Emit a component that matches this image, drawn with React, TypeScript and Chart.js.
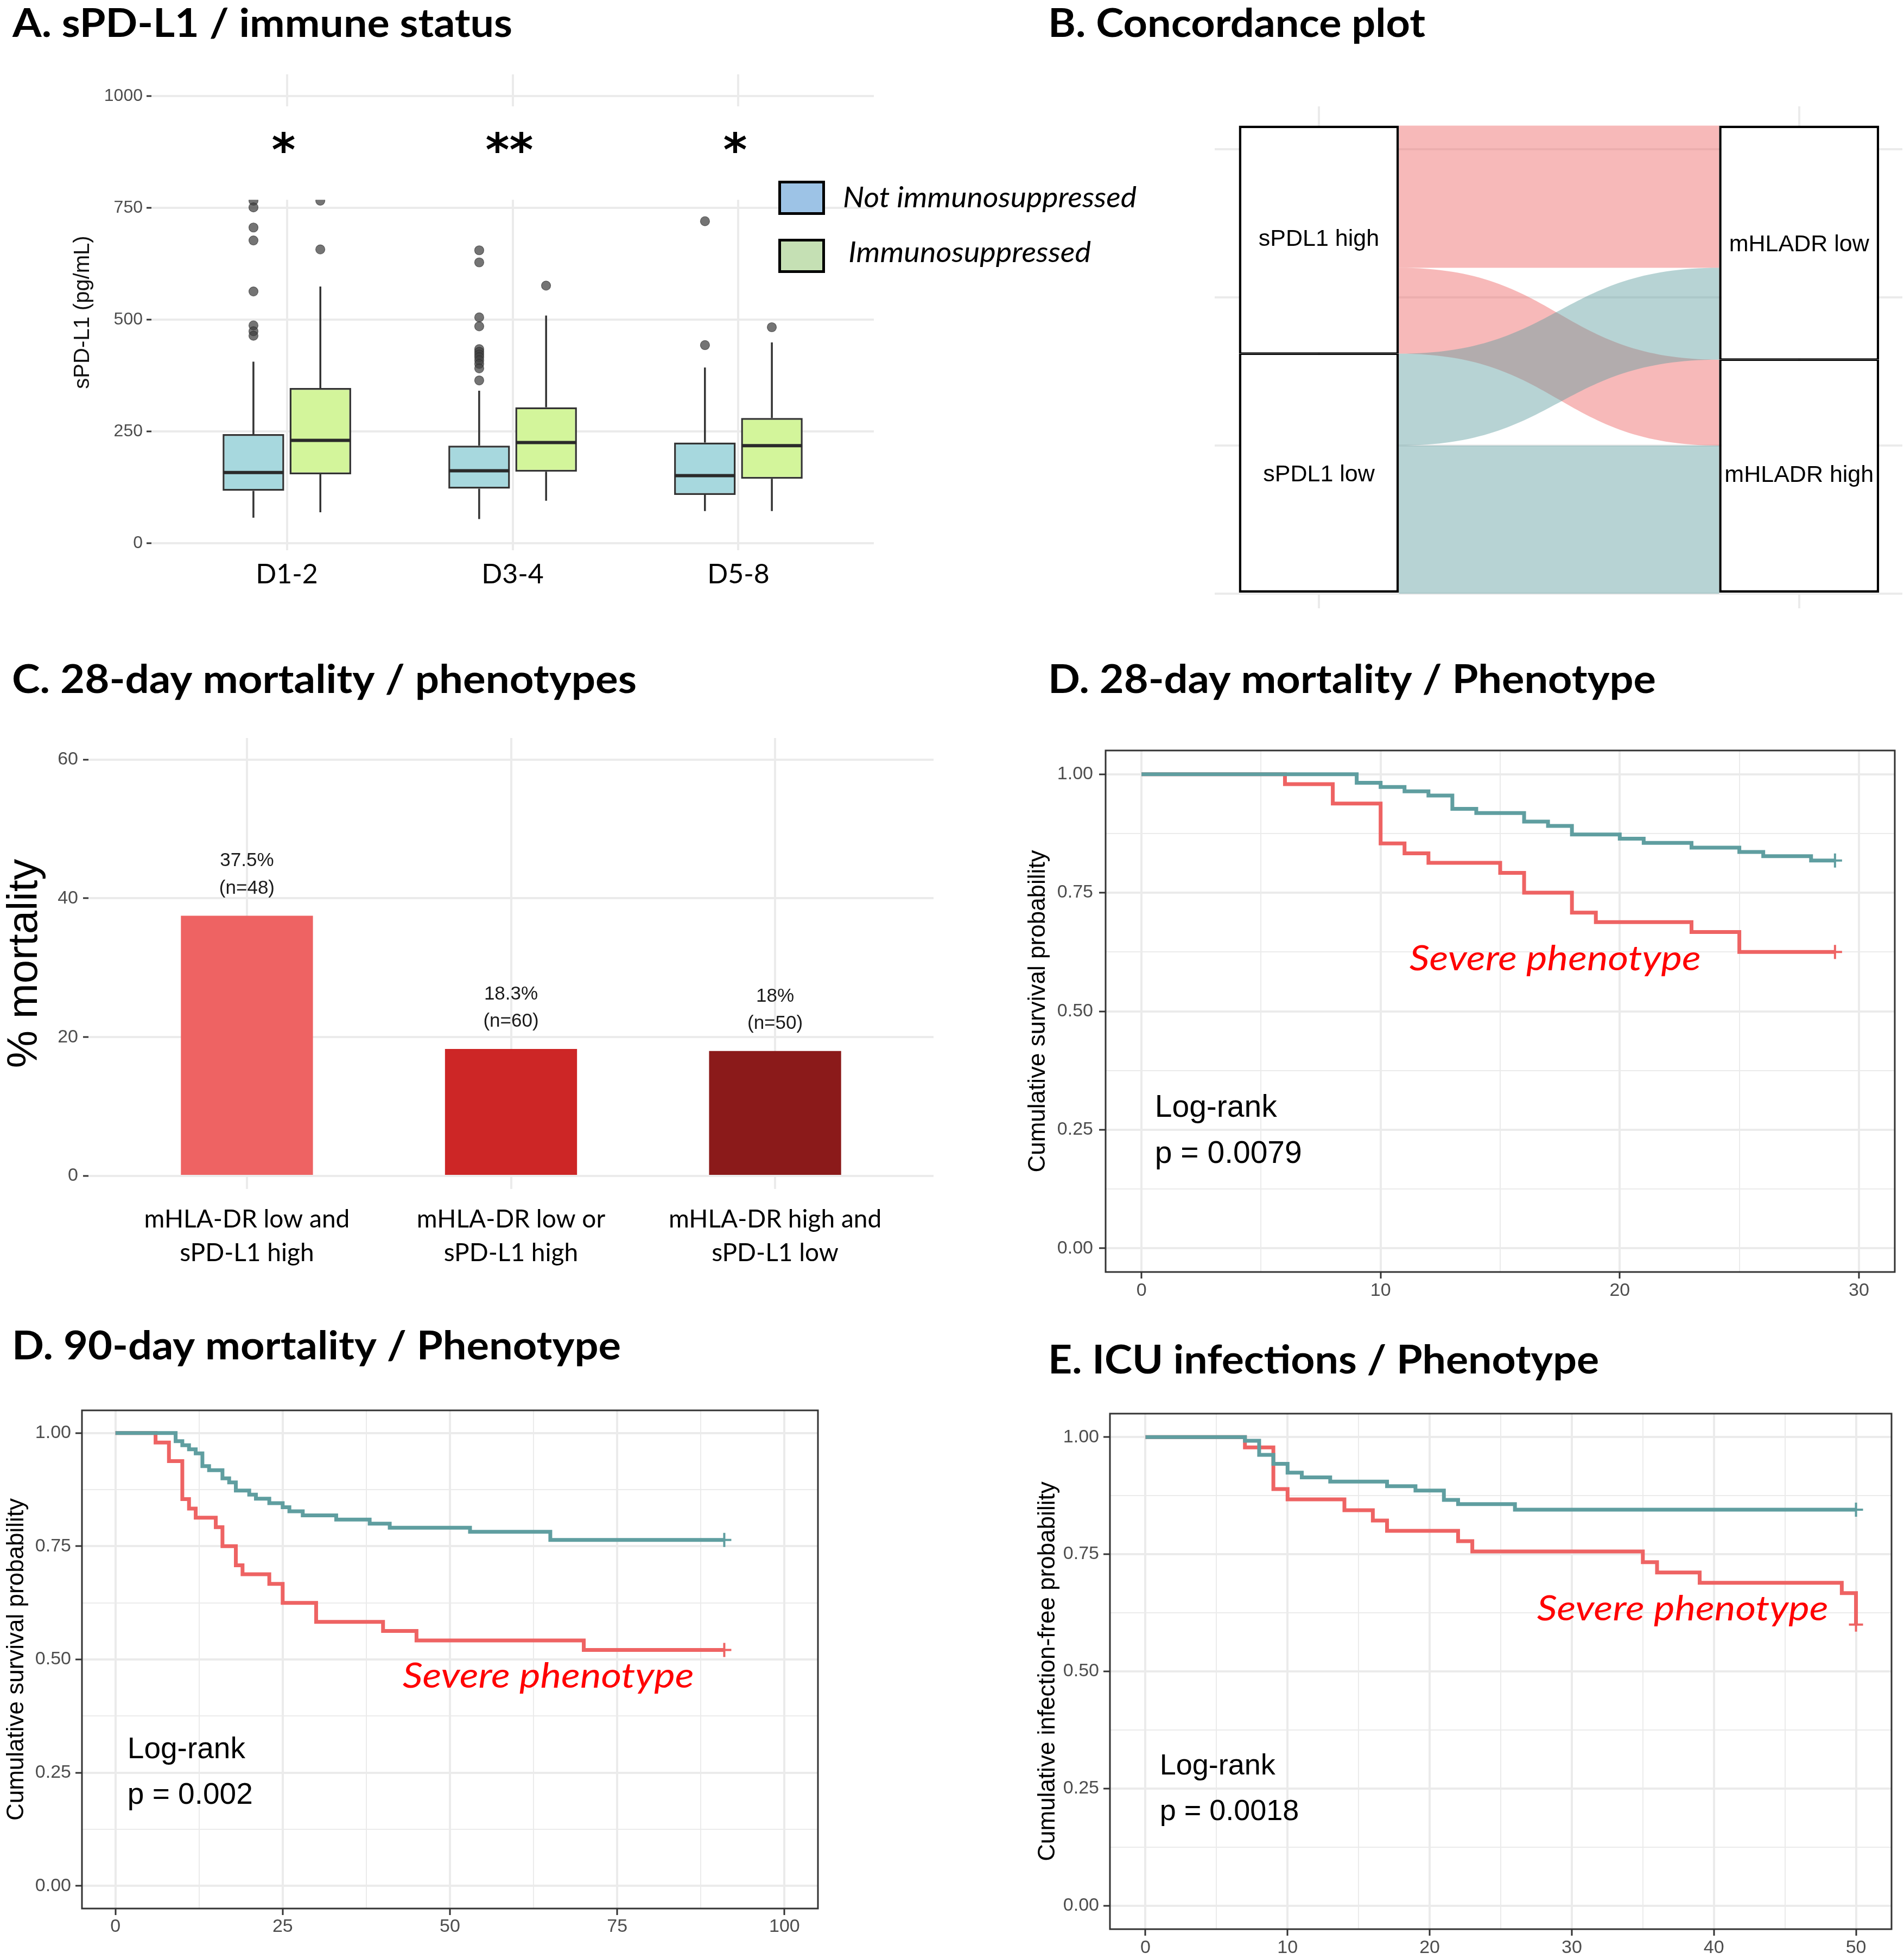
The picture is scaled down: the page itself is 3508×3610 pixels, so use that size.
import React, { useEffect, useRef } from 'react';
import { Chart, registerables } from 'chart.js';

Chart.register(...registerables);

// ---------------- Panel A : sPD-L1 / immune status ----------------
const dayGroups = ['D1-2', 'D3-4', 'D5-8'];
const statusGroups = ['Not immunosuppressed', 'Immunosuppressed'];
const notImmWhiskerLow = [57, 54, 72];
const notImmQ1 = [117, 122, 108];
const notImmMedian = [158, 162, 151];
const notImmQ3 = [244, 218, 225];
const notImmWhiskerHigh = [406, 341, 393];
const notImmOutliers = [
  [766, 751, 706, 677, 563, 487, 474, 464],
  [655, 628, 505, 485, 434, 428, 422, 416, 409, 401, 391, 364],
  [720, 443],
];
const immWhiskerLow = [69, 95, 72];
const immQ1 = [154, 160, 144];
const immMedian = [230, 225, 218];
const immQ3 = [347, 304, 280];
const immWhiskerHigh = [574, 509, 449];
const immOutliers = [[766, 657], [576], [483]];
const significance = ['*', '**', '*'];
const spdl1Ticks = [0, 250, 500, 750, 1000];

// ---------------- Panel B : concordance (alluvial) ----------------
const leftStrata = ['sPDL1 high', 'sPDL1 low'];
const rightStrata = ['mHLADR low', 'mHLADR high'];
const flowFrom = [0, 0, 1, 1];
const flowTo = [0, 1, 0, 1];
const flowCount = [48, 29, 31, 50];
const concordanceTicks = [0, 50, 100, 150];
const axisPositions = [1, 2];

// ---------------- Panel C : 28-day mortality ----------------
const phenotypeLabels = [
  ['mHLA-DR low and', 'sPD-L1 high'],
  ['mHLA-DR low or', 'sPD-L1 high'],
  ['mHLA-DR high and', 'sPD-L1 low'],
];
const mortalityPct = [37.5, 18.3, 18];
const mortalityText = ['37.5%', '18.3%', '18%'];
const groupSize = [48, 60, 50];
const mortalityTicks = [0, 20, 40, 60];

// ---------------- Kaplan-Meier panels ----------------
const survTicks = [0, 0.25, 0.5, 0.75, 1];
const survMinorTicks = [0.125, 0.375, 0.625, 0.875];

const d28Ticks = [0, 10, 20, 30];
const d28MinorTicks = [5, 15, 25];
const d28TealTime = [0, 9, 10, 11, 12, 13, 14, 16, 17, 18, 20, 21, 23, 25, 26, 28, 29];
const d28TealSurv = [1, 0.982, 0.973, 0.964, 0.955, 0.927, 0.918, 0.9, 0.891, 0.873, 0.864, 0.855, 0.845, 0.836, 0.827, 0.818, 0.818];
const d28RedTime = [0, 6, 8, 10, 11, 12, 15, 16, 18, 19, 23, 25, 29];
const d28RedSurv = [1, 0.979, 0.938, 0.854, 0.833, 0.813, 0.792, 0.75, 0.708, 0.688, 0.667, 0.625, 0.625];

const d90Ticks = [0, 25, 50, 75, 100];
const d90MinorTicks = [12.5, 37.5, 62.5, 87.5];
const d90TealTime = [0, 9, 10, 11, 12, 13, 14, 16, 17, 18, 20, 21, 23, 25, 26, 28, 33, 38, 41, 53, 65, 91];
const d90TealSurv = [1, 0.982, 0.973, 0.964, 0.955, 0.927, 0.918, 0.9, 0.891, 0.873, 0.864, 0.855, 0.845, 0.836, 0.827, 0.818, 0.809, 0.8, 0.791, 0.782, 0.764, 0.764];
const d90RedTime = [0, 6, 8, 10, 11, 12, 15, 16, 18, 19, 23, 25, 30, 40, 45, 70, 91];
const d90RedSurv = [1, 0.979, 0.938, 0.854, 0.833, 0.813, 0.792, 0.75, 0.708, 0.688, 0.667, 0.625, 0.583, 0.563, 0.542, 0.521, 0.521];

const icuTicks = [0, 10, 20, 30, 40, 50];
const icuMinorTicks = [5, 15, 25, 35, 45];
const icuTealTime = [0, 7, 8, 9, 10, 11, 13, 17, 19, 21, 22, 26, 50];
const icuTealSurv = [1, 0.992, 0.962, 0.943, 0.924, 0.914, 0.905, 0.895, 0.886, 0.866, 0.857, 0.845, 0.845];
const icuRedTime = [0, 7, 9, 10, 14, 16, 17, 22, 23, 35, 36, 39, 49, 50];
const icuRedSurv = [1, 0.978, 0.889, 0.867, 0.844, 0.822, 0.8, 0.778, 0.756, 0.733, 0.711, 0.689, 0.667, 0.6];

const kmGroups = ['Other phenotypes', 'Severe phenotype'];
const severeLabel = 'Severe phenotype';
const logRankLabel = 'Log-rank';
const d28P = 'p = 0.0079';
const d90P = 'p = 0.002';
const icuP = 'p = 0.0018';
const survTitle = 'Cumulative survival probability';
const infectionTitle = 'Cumulative infection-free probability';

const titles = {
  a: 'A. sPD-L1 / immune status',
  b: 'B. Concordance plot',
  c: 'C. 28-day mortality / phenotypes',
  d28: 'D. 28-day mortality / Phenotype',
  d90: 'D. 90-day mortality / Phenotype',
  e: 'E. ICU infections / Phenotype',
};

// ---------------- styles ----------------
const GRID = '#EBEBEB';
const DARK = '#333333';
const TICK_TEXT = '#4D4D4D';
const SANS = "'Liberation Sans', Arial, sans-serif";
const CAL = "Lato, 'Open Sans', sans-serif";
const TITLE_SIZE = 72;
const RED = '#EE6363';
const TEAL = '#5F9EA0';
const barColors = ['#EE6363', '#CD2626', '#8B1A1A'];
const flowColors = ['rgba(238,99,99,0.45)', 'rgba(95,158,160,0.45)'];
const boxFills = ['#A7D8DE', '#D3F59B'];
const legendFills = ['#9DC3E6', '#C5E0B4'];

type Box = { left: number; top: number; width: number; height: number };
type Area = { left: number; top: number; right: number; bottom: number };

const boxA: Box = { left: 0, top: 0, width: 2120, height: 1110 };
const areaA: Area = { left: 279, top: 137, right: 1610, bottom: 1014 };
const boxB: Box = { left: 1900, top: 0, width: 1608, height: 1130 };
const areaB: Area = { left: 2238, top: 196, right: 3505, bottom: 1121 };
const boxC: Box = { left: 0, top: 1150, width: 1760, height: 1250 };
const areaC: Area = { left: 163, top: 1360, right: 1720, bottom: 2191 };

function layoutFor(box: Box, area: Area) {
  return {
    padding: { left: 0, top: area.top - box.top, right: box.left + box.width - area.right, bottom: 0 },
    yWidth: area.left - box.left,
    xHeight: box.top + box.height - area.bottom,
  };
}

const fixedTicks = (values: number[]) => (axis: any) => {
  axis.ticks = values.map((v) => ({ value: v }));
};

function fitText(
  ctx: CanvasRenderingContext2D,
  text: string,
  x: number,
  y: number,
  o: { font: string; color: string; align?: 'left' | 'center' | 'right'; mode?: 'baseline' | 'center'; width?: number }
) {
  ctx.save();
  ctx.font = o.font;
  ctx.fillStyle = o.color;
  ctx.textAlign = 'left';
  ctx.textBaseline = 'alphabetic';
  const m = ctx.measureText(text);
  const sx = o.width ? o.width / m.width : 1;
  const w = m.width * sx;
  let x0 = x;
  if (o.align === 'center') x0 = x - w / 2;
  else if (o.align === 'right') x0 = x - w;
  let yb = y;
  if (o.mode === 'center') yb = y + (m.actualBoundingBoxAscent - m.actualBoundingBoxDescent) / 2;
  ctx.translate(x0, yb);
  ctx.scale(sx, 1);
  ctx.fillText(text, 0, 0);
  ctx.restore();
}

function titlePlugin(text: string, pageX: number, pageY: number, width: number, box: Box) {
  return {
    id: 'panelTitle',
    afterDraw(chart: any) {
      fitText(chart.ctx, text, pageX - box.left, pageY - box.top, {
        font: `bold ${TITLE_SIZE}px ${CAL}`,
        color: '#000',
        width,
      });
    },
  };
}

const baseOptions = {
  responsive: false,
  animation: false,
  devicePixelRatio: 1,
  events: [],
};

// ---------------- Panel A config ----------------
function configA(): any {
  const L = layoutFor(boxA, areaA);
  const dodge = 0.148;
  const outlierData = [
    ...notImmOutliers.flatMap((vals, i) => vals.map((v) => ({ x: i + 1 - dodge, y: v }))),
    ...immOutliers.flatMap((vals, i) => vals.map((v) => ({ x: i + 1 + dodge, y: v }))),
  ];
  const boxPlugin = {
    id: 'boxPlot',
    beforeDatasetsDraw(chart: any) {
      const ctx = chart.ctx;
      const y = chart.scales.y;
      const stats = [
        [notImmWhiskerLow, notImmQ1, notImmQ3, notImmWhiskerHigh],
        [immWhiskerLow, immQ1, immQ3, immWhiskerHigh],
      ];
      ctx.save();
      ctx.strokeStyle = DARK;
      ctx.lineWidth = 3.5;
      stats.forEach(([lo, q1, q3, hi], di) => {
        chart.getDatasetMeta(di).data.forEach((bar: any, i: number) => {
          ctx.beginPath();
          ctx.moveTo(bar.x, y.getPixelForValue(lo[i]));
          ctx.lineTo(bar.x, y.getPixelForValue(q1[i]));
          ctx.moveTo(bar.x, y.getPixelForValue(q3[i]));
          ctx.lineTo(bar.x, y.getPixelForValue(hi[i]));
          ctx.stroke();
        });
      });
      ctx.restore();
    },
    afterDatasetsDraw(chart: any) {
      const ctx = chart.ctx;
      const { chartArea } = chart;
      const x = chart.scales.x;
      const y = chart.scales.y;
      ctx.save();
      ctx.strokeStyle = '#2A2A2A';
      ctx.lineWidth = 6;
      [notImmMedian, immMedian].forEach((med, di) => {
        chart.getDatasetMeta(di).data.forEach((bar: any, i: number) => {
          const py = y.getPixelForValue(med[i]);
          ctx.beginPath();
          ctx.moveTo(bar.x - bar.width / 2 + 1, py);
          ctx.lineTo(bar.x + bar.width / 2 - 1, py);
          ctx.stroke();
        });
      });
      // white band behind the significance stars
      const top = y.getPixelForValue(977);
      const bottom = y.getPixelForValue(768);
      ctx.fillStyle = '#ffffff';
      ctx.fillRect(chartArea.left - 2, top, chartArea.right - chartArea.left + 4, bottom - top);
      ctx.restore();
      significance.forEach((s, i) => {
        fitText(ctx, s, x.getPixelForValue(i + 1) - 6, y.getPixelForValue(896), {
          font: `bold 84px 'DejaVu Sans', sans-serif`,
          color: '#000',
          align: 'center',
          mode: 'center',
        });
      });
      // legend
      const keys = [
        { x: 1434, y: 333, tx: 1553, ty: 382, w: 541 },
        { x: 1434, y: 440, tx: 1563, ty: 483, w: 447 },
      ];
      keys.forEach((k, i) => {
        ctx.save();
        ctx.fillStyle = legendFills[i];
        ctx.fillRect(k.x - boxA.left, k.y - boxA.top, 86, 63);
        ctx.strokeStyle = '#000';
        ctx.lineWidth = 5;
        ctx.strokeRect(k.x - boxA.left + 2.5, k.y - boxA.top + 2.5, 81, 58);
        ctx.restore();
        fitText(ctx, statusGroups[i], k.tx - boxA.left, k.ty - boxA.top, {
          font: `italic 52px ${CAL}`,
          color: '#000',
          width: k.w,
        });
      });
    },
  };
  return {
    type: 'bar',
    data: {
      datasets: [
        {
          type: 'bar',
          label: statusGroups[0],
          data: dayGroups.map((_, i) => ({ x: i + 1, y: [notImmQ1[i], notImmQ3[i]] })),
          backgroundColor: boxFills[0],
          borderColor: DARK,
          borderWidth: 3.5,
          borderSkipped: false,
          categoryPercentage: 0.593,
          barPercentage: 0.92,
          order: 1,
        },
        {
          type: 'bar',
          label: statusGroups[1],
          data: dayGroups.map((_, i) => ({ x: i + 1, y: [immQ1[i], immQ3[i]] })),
          backgroundColor: boxFills[1],
          borderColor: DARK,
          borderWidth: 3.5,
          borderSkipped: false,
          categoryPercentage: 0.593,
          barPercentage: 0.92,
          order: 1,
        },
        {
          type: 'scatter',
          label: 'Outliers',
          data: outlierData,
          showLine: false,
          pointRadius: 8.5,
          pointHoverRadius: 8.5,
          backgroundColor: 'rgba(62,62,62,0.72)',
          borderColor: 'rgba(40,40,40,0.6)',
          borderWidth: 1.2,
          order: 0,
        },
      ],
    },
    options: {
      ...baseOptions,
      layout: { padding: L.padding },
      plugins: { legend: { display: false }, tooltip: { enabled: false } },
      scales: {
        x: {
          type: 'linear',
          min: 0.4,
          max: 3.6,
          offset: false,
          grid: { color: GRID, lineWidth: 4, drawTicks: false, offset: false },
          border: { display: false },
          ticks: {
            autoSkip: false,
            maxRotation: 0,
            minRotation: 0,
            padding: 15,
            color: '#000',
            font: { family: CAL, size: 50 },
            callback: (v: number) => dayGroups[Math.round(v) - 1] ?? '',
          },
          afterBuildTicks: fixedTicks([1, 2, 3]),
          afterFit: (s: any) => {
            s.height = L.xHeight;
          },
        },
        y: {
          type: 'linear',
          min: -15.8,
          max: 1048.5,
          grid: { color: GRID, lineWidth: 4, tickColor: DARK, tickLength: 9, tickWidth: 3 },
          border: { display: false },
          ticks: { padding: 7, color: TICK_TEXT, font: { family: SANS, size: 32 }, callback: (v: number) => String(v) },
          afterBuildTicks: fixedTicks(spdl1Ticks),
          title: {
            display: true,
            text: 'sPD-L1 (pg/mL)',
            color: '#111',
            font: { family: SANS, size: 40 },
            padding: { top: 129, bottom: 0 },
          },
          afterFit: (s: any) => {
            s.width = L.yWidth;
          },
        },
      },
    },
    plugins: [titlePlugin(titles.a, 23, 68, 921, boxA), boxPlugin],
  };
}

// ---------------- Panel B config ----------------
function configB(): any {
  const L = layoutFor(boxB, areaB);
  const leftSize = leftStrata.map((_, k) => flowCount.reduce((a, c, i) => a + (flowFrom[i] === k ? c : 0), 0));
  const rightSize = rightStrata.map((_, k) => flowCount.reduce((a, c, i) => a + (flowTo[i] === k ? c : 0), 0));
  const total = flowCount.reduce((a, b) => a + b, 0);
  const alluvial = {
    id: 'alluvial',
    beforeDatasetsDraw(chart: any) {
      const ctx = chart.ctx;
      const y = chart.scales.y;
      const meta = chart.getDatasetMeta(0);
      const lb = meta.data[0];
      const rb = meta.data[1];
      const x0 = lb.x + lb.width / 2;
      const x1 = rb.x - rb.width / 2;
      const xm = (x0 + x1) / 2;
      const idx = flowCount.map((_, i) => i);
      const leftOrder = [...idx].sort((a, b) => flowFrom[a] - flowFrom[b] || flowTo[a] - flowTo[b]);
      const rightOrder = [...idx].sort((a, b) => flowTo[a] - flowTo[b] || flowFrom[a] - flowFrom[b]);
      const lTop: number[] = [];
      const rTop: number[] = [];
      let acc = total;
      leftOrder.forEach((i) => {
        lTop[i] = acc;
        acc -= flowCount[i];
      });
      acc = total;
      rightOrder.forEach((i) => {
        rTop[i] = acc;
        acc -= flowCount[i];
      });
      ctx.save();
      leftOrder.forEach((i) => {
        const a = y.getPixelForValue(lTop[i]);
        const b = y.getPixelForValue(lTop[i] - flowCount[i]);
        const c = y.getPixelForValue(rTop[i]);
        const d = y.getPixelForValue(rTop[i] - flowCount[i]);
        ctx.beginPath();
        ctx.moveTo(x0, a);
        ctx.bezierCurveTo(xm, a, xm, c, x1, c);
        ctx.lineTo(x1, d);
        ctx.bezierCurveTo(xm, d, xm, b, x0, b);
        ctx.closePath();
        ctx.fillStyle = flowColors[flowFrom[i]];
        ctx.fill();
      });
      ctx.restore();
    },
    afterDatasetsDraw(chart: any) {
      const ctx = chart.ctx;
      const names = [
        [leftStrata[1], rightStrata[1]],
        [leftStrata[0], rightStrata[0]],
      ];
      [0, 1].forEach((di) => {
        chart.getDatasetMeta(di).data.forEach((bar: any, i: number) => {
          fitText(ctx, names[di][i], bar.x, (bar.y + bar.base) / 2, {
            font: `43px ${SANS}`,
            color: '#000',
            align: 'center',
            mode: 'center',
          });
        });
      });
    },
  };
  const stratumStyle = {
    backgroundColor: '#ffffff',
    borderColor: '#000000',
    borderSkipped: false,
    categoryPercentage: 1 / 3,
    barPercentage: 1,
  };
  return {
    type: 'bar',
    data: {
      datasets: [
        {
          label: 'Lower strata',
          data: [
            { x: axisPositions[0], y: leftSize[1] },
            { x: axisPositions[1], y: rightSize[1] },
          ],
          borderWidth: { top: 2.5, left: 4.5, right: 4.5, bottom: 4.5 },
          ...stratumStyle,
        },
        {
          label: 'Upper strata',
          data: [
            { x: axisPositions[0], y: leftSize[0] },
            { x: axisPositions[1], y: rightSize[0] },
          ],
          borderWidth: { top: 4.5, left: 4.5, right: 4.5, bottom: 2.5 },
          ...stratumStyle,
        },
      ],
    },
    options: {
      ...baseOptions,
      layout: { padding: L.padding },
      plugins: { legend: { display: false }, tooltip: { enabled: false } },
      scales: {
        x: {
          type: 'linear',
          stacked: true,
          min: 0.783,
          max: 2.215,
          offset: false,
          grid: { color: GRID, lineWidth: 4, drawTicks: false, offset: false },
          border: { display: false },
          ticks: { display: false },
          afterBuildTicks: fixedTicks(axisPositions),
          afterFit: (s: any) => {
            s.height = L.xHeight;
          },
        },
        y: {
          type: 'linear',
          stacked: true,
          min: -4.95,
          max: 164.5,
          grid: { color: GRID, lineWidth: 4, drawTicks: false },
          border: { display: false },
          ticks: { display: false },
          afterBuildTicks: fixedTicks(concordanceTicks),
          afterFit: (s: any) => {
            s.width = L.yWidth;
          },
        },
      },
    },
    plugins: [titlePlugin(titles.b, 1931, 68, 695, boxB), alluvial],
  };
}

// ---------------- Panel C config ----------------
function configC(): any {
  const L = layoutFor(boxC, areaC);
  const labels = {
    id: 'barLabels',
    afterDatasetsDraw(chart: any) {
      const ctx = chart.ctx;
      chart.getDatasetMeta(0).data.forEach((bar: any, i: number) => {
        fitText(ctx, mortalityText[i], bar.x, bar.y - 103, {
          font: `35px ${SANS}`,
          color: '#1A1A1A',
          align: 'center',
          mode: 'center',
        });
        fitText(ctx, `(n=${groupSize[i]})`, bar.x, bar.y - 50, {
          font: `35px ${SANS}`,
          color: '#1A1A1A',
          align: 'center',
          mode: 'center',
        });
      });
    },
  };
  return {
    type: 'bar',
    data: {
      datasets: [
        {
          label: '% mortality',
          data: mortalityPct.map((v, i) => ({ x: i + 1, y: v })),
          backgroundColor: barColors,
          borderWidth: 0,
          categoryPercentage: 0.5,
          barPercentage: 1,
        },
      ],
    },
    options: {
      ...baseOptions,
      layout: { padding: L.padding },
      plugins: { legend: { display: false }, tooltip: { enabled: false } },
      scales: {
        x: {
          type: 'linear',
          min: 0.4,
          max: 3.6,
          offset: false,
          grid: { color: GRID, lineWidth: 4, drawTicks: false, offset: false },
          border: { display: false },
          ticks: {
            autoSkip: false,
            maxRotation: 0,
            minRotation: 0,
            padding: 25,
            color: '#000',
            font: { family: CAL, size: 46, lineHeight: 1.35 },
            callback: (v: number) => phenotypeLabels[Math.round(v) - 1] ?? '',
          },
          afterBuildTicks: fixedTicks([1, 2, 3]),
          afterFit: (s: any) => {
            s.height = L.xHeight;
          },
        },
        y: {
          type: 'linear',
          min: -1.88,
          max: 63.1,
          grid: { color: GRID, lineWidth: 4, tickColor: DARK, tickLength: 10, tickWidth: 3 },
          border: { display: false },
          ticks: { padding: 9, color: TICK_TEXT, font: { family: SANS, size: 34 }, callback: (v: number) => String(v) },
          afterBuildTicks: fixedTicks(mortalityTicks),
          title: {
            display: true,
            text: '% mortality',
            color: '#000',
            font: { family: SANS, size: 78 },
            padding: { top: 0, bottom: 0 },
          },
          afterFit: (s: any) => {
            s.width = L.yWidth;
          },
        },
      },
    },
    plugins: [titlePlugin(titles.c, 22, 1277, 1151, boxC), labels],
  };
}

// ---------------- Kaplan-Meier config ----------------
type KmSpec = {
  box: Box;
  area: Area;
  xMin: number;
  xMax: number;
  yTitleX: number;
  yLabelPad: number;
  xLabelPad: number;
  title: string;
  titleX: number;
  titleY: number;
  titleW: number;
  severe: [number, number];
  logrank: [number, number];
  pval: [number, number];
  noteSize: number;
};

const kmD28: KmSpec = {
  box: { left: 1880, top: 1150, width: 1628, height: 1260 },
  area: { left: 2037, top: 1383, right: 3499, bottom: 2344 },
  xMin: -1.5,
  xMax: 31.5,
  yTitleX: 1913,
  yLabelPad: 11,
  xLabelPad: 2,
  title: titles.d28,
  titleX: 1931,
  titleY: 1277,
  titleW: 1120,
  severe: [17.3, 0.607],
  logrank: [0.56, 0.294],
  pval: [0.56, 0.197],
  noteSize: 57,
};
const kmD90: KmSpec = {
  box: { left: 0, top: 2420, width: 1560, height: 1190 },
  area: { left: 151, top: 2599, right: 1507, bottom: 3517 },
  xMin: -5,
  xMax: 105,
  yTitleX: 31,
  yLabelPad: 8,
  xLabelPad: 1,
  title: titles.d90,
  titleX: 22,
  titleY: 2505,
  titleW: 1122,
  severe: [64.7, 0.459],
  logrank: [1.8, 0.299],
  pval: [1.8, 0.198],
  noteSize: 55,
};
const kmIcu: KmSpec = {
  box: { left: 1880, top: 2420, width: 1628, height: 1190 },
  area: { left: 2045, top: 2605, right: 3485, bottom: 3555 },
  xMin: -2.5,
  xMax: 52.5,
  yTitleX: 1931,
  yLabelPad: 8,
  xLabelPad: 2,
  title: titles.e,
  titleX: 1931,
  titleY: 2531,
  titleW: 1015,
  severe: [37.8, 0.63],
  logrank: [1.0, 0.296],
  pval: [1.0, 0.198],
  noteSize: 54,
};

function kmConfig(
  spec: KmSpec,
  tealT: number[],
  tealS: number[],
  redT: number[],
  redS: number[],
  xTicks: number[],
  xMinor: number[],
  yTitle: string,
  pText: string
): any {
  const L = layoutFor(spec.box, spec.area);
  const mk = (t: number[], s: number[], color: string, label: string) => ({
    type: 'line',
    label,
    data: t.map((v, i) => ({ x: v, y: s[i] })),
    borderColor: color,
    backgroundColor: color,
    borderWidth: 7,
    stepped: 'before',
    fill: false,
    tension: 0,
    borderCapStyle: 'butt',
    borderJoinStyle: 'miter',
    pointStyle: 'cross',
    pointRadius: (c: any) => (c.dataIndex === t.length - 1 ? 13 : 0),
    pointHoverRadius: 0,
    pointBorderWidth: 4,
    pointBorderColor: color,
    pointBackgroundColor: color,
  });
  const notes = {
    id: 'kmNotes',
    afterDatasetsDraw(chart: any) {
      const ctx = chart.ctx;
      const { chartArea } = chart;
      const x = chart.scales.x;
      const y = chart.scales.y;
      ctx.save();
      ctx.strokeStyle = DARK;
      ctx.lineWidth = 3;
      ctx.strokeRect(chartArea.left, chartArea.top, chartArea.right - chartArea.left, chartArea.bottom - chartArea.top);
      ctx.restore();
      fitText(ctx, severeLabel, x.getPixelForValue(spec.severe[0]), y.getPixelForValue(spec.severe[1]), {
        font: `italic 64px ${CAL}`,
        color: '#FF0000',
        align: 'center',
        mode: 'center',
        width: 537,
      });
      fitText(ctx, logRankLabel, x.getPixelForValue(spec.logrank[0]), y.getPixelForValue(spec.logrank[1]), {
        font: `${spec.noteSize}px ${SANS}`,
        color: '#000',
        align: 'left',
        mode: 'center',
      });
      fitText(ctx, pText, x.getPixelForValue(spec.pval[0]), y.getPixelForValue(spec.pval[1]), {
        font: `${spec.noteSize}px ${SANS}`,
        color: '#000',
        align: 'left',
        mode: 'center',
      });
    },
  };
  const yTitleSize = 44;
  return {
    type: 'line',
    data: {
      datasets: [mk(tealT, tealS, TEAL, kmGroups[0]), mk(redT, redS, RED, kmGroups[1])],
    },
    options: {
      ...baseOptions,
      layout: { padding: L.padding },
      plugins: { legend: { display: false }, tooltip: { enabled: false } },
      scales: {
        x: {
          type: 'linear',
          min: spec.xMin,
          max: spec.xMax,
          grid: { color: GRID, lineWidth: 4, tickColor: DARK, tickLength: 12, tickWidth: 3 },
          border: { display: false },
          ticks: {
            autoSkip: false,
            maxRotation: 0,
            minRotation: 0,
            padding: spec.xLabelPad,
            color: TICK_TEXT,
            font: { family: SANS, size: 34 },
            callback: (v: number) => String(v),
          },
          afterBuildTicks: fixedTicks(xTicks),
          afterFit: (s: any) => {
            s.height = L.xHeight;
          },
        },
        xMinor: {
          type: 'linear',
          position: 'bottom',
          min: spec.xMin,
          max: spec.xMax,
          grid: { color: GRID, lineWidth: 2, drawTicks: false },
          border: { display: false },
          ticks: { display: false },
          afterBuildTicks: fixedTicks(xMinor),
          afterFit: (s: any) => {
            s.height = 0;
          },
        },
        y: {
          type: 'linear',
          min: -0.05,
          max: 1.05,
          grid: { color: GRID, lineWidth: 4, tickColor: DARK, tickLength: 12, tickWidth: 3 },
          border: { display: false },
          ticks: {
            padding: spec.yLabelPad,
            color: TICK_TEXT,
            font: { family: SANS, size: 34 },
            callback: (v: number) => Number(v).toFixed(2),
          },
          afterBuildTicks: fixedTicks(survTicks),
          title: {
            display: true,
            text: yTitle,
            color: '#000',
            font: { family: SANS, size: yTitleSize },
            padding: { top: spec.yTitleX - spec.box.left - yTitleSize * 0.6, bottom: 0 },
          },
          afterFit: (s: any) => {
            s.width = L.yWidth;
          },
        },
        yMinor: {
          type: 'linear',
          position: 'left',
          min: -0.05,
          max: 1.05,
          grid: { color: GRID, lineWidth: 2, drawTicks: false },
          border: { display: false },
          ticks: { display: false },
          afterBuildTicks: fixedTicks(survMinorTicks),
          afterFit: (s: any) => {
            s.width = 0;
          },
        },
      },
    },
    plugins: [titlePlugin(spec.title, spec.titleX, spec.titleY, spec.titleW, spec.box), notes],
  };
}

export default function App() {
  const rA = useRef<HTMLCanvasElement>(null);
  const rB = useRef<HTMLCanvasElement>(null);
  const rC = useRef<HTMLCanvasElement>(null);
  const rD28 = useRef<HTMLCanvasElement>(null);
  const rD90 = useRef<HTMLCanvasElement>(null);
  const rE = useRef<HTMLCanvasElement>(null);

  useEffect(() => {
    document.body.style.margin = '0';
    document.body.style.background = '#ffffff';
    const charts: Chart[] = [];
    const add = (r: React.RefObject<HTMLCanvasElement | null>, cfg: any) => {
      if (r.current) charts.push(new Chart(r.current, cfg));
    };
    add(rA, configA());
    add(rB, configB());
    add(rC, configC());
    add(rD28, kmConfig(kmD28, d28TealTime, d28TealSurv, d28RedTime, d28RedSurv, d28Ticks, d28MinorTicks, survTitle, d28P));
    add(rD90, kmConfig(kmD90, d90TealTime, d90TealSurv, d90RedTime, d90RedSurv, d90Ticks, d90MinorTicks, survTitle, d90P));
    add(rE, kmConfig(kmIcu, icuTealTime, icuTealSurv, icuRedTime, icuRedSurv, icuTicks, icuMinorTicks, infectionTitle, icuP));
    return () => charts.forEach((c) => c.destroy());
  }, []);

  const cv = (r: React.RefObject<HTMLCanvasElement | null>, b: Box) => (
    <canvas
      ref={r}
      width={b.width}
      height={b.height}
      style={{ position: 'absolute', left: b.left, top: b.top, width: b.width, height: b.height }}
    />
  );

  return (
    <div style={{ position: 'relative', width: 3508, height: 3610, background: '#ffffff', overflow: 'hidden' }}>
      {cv(rA, boxA)}
      {cv(rB, boxB)}
      {cv(rC, boxC)}
      {cv(rD28, kmD28.box)}
      {cv(rD90, kmD90.box)}
      {cv(rE, kmIcu.box)}
    </div>
  );
}
